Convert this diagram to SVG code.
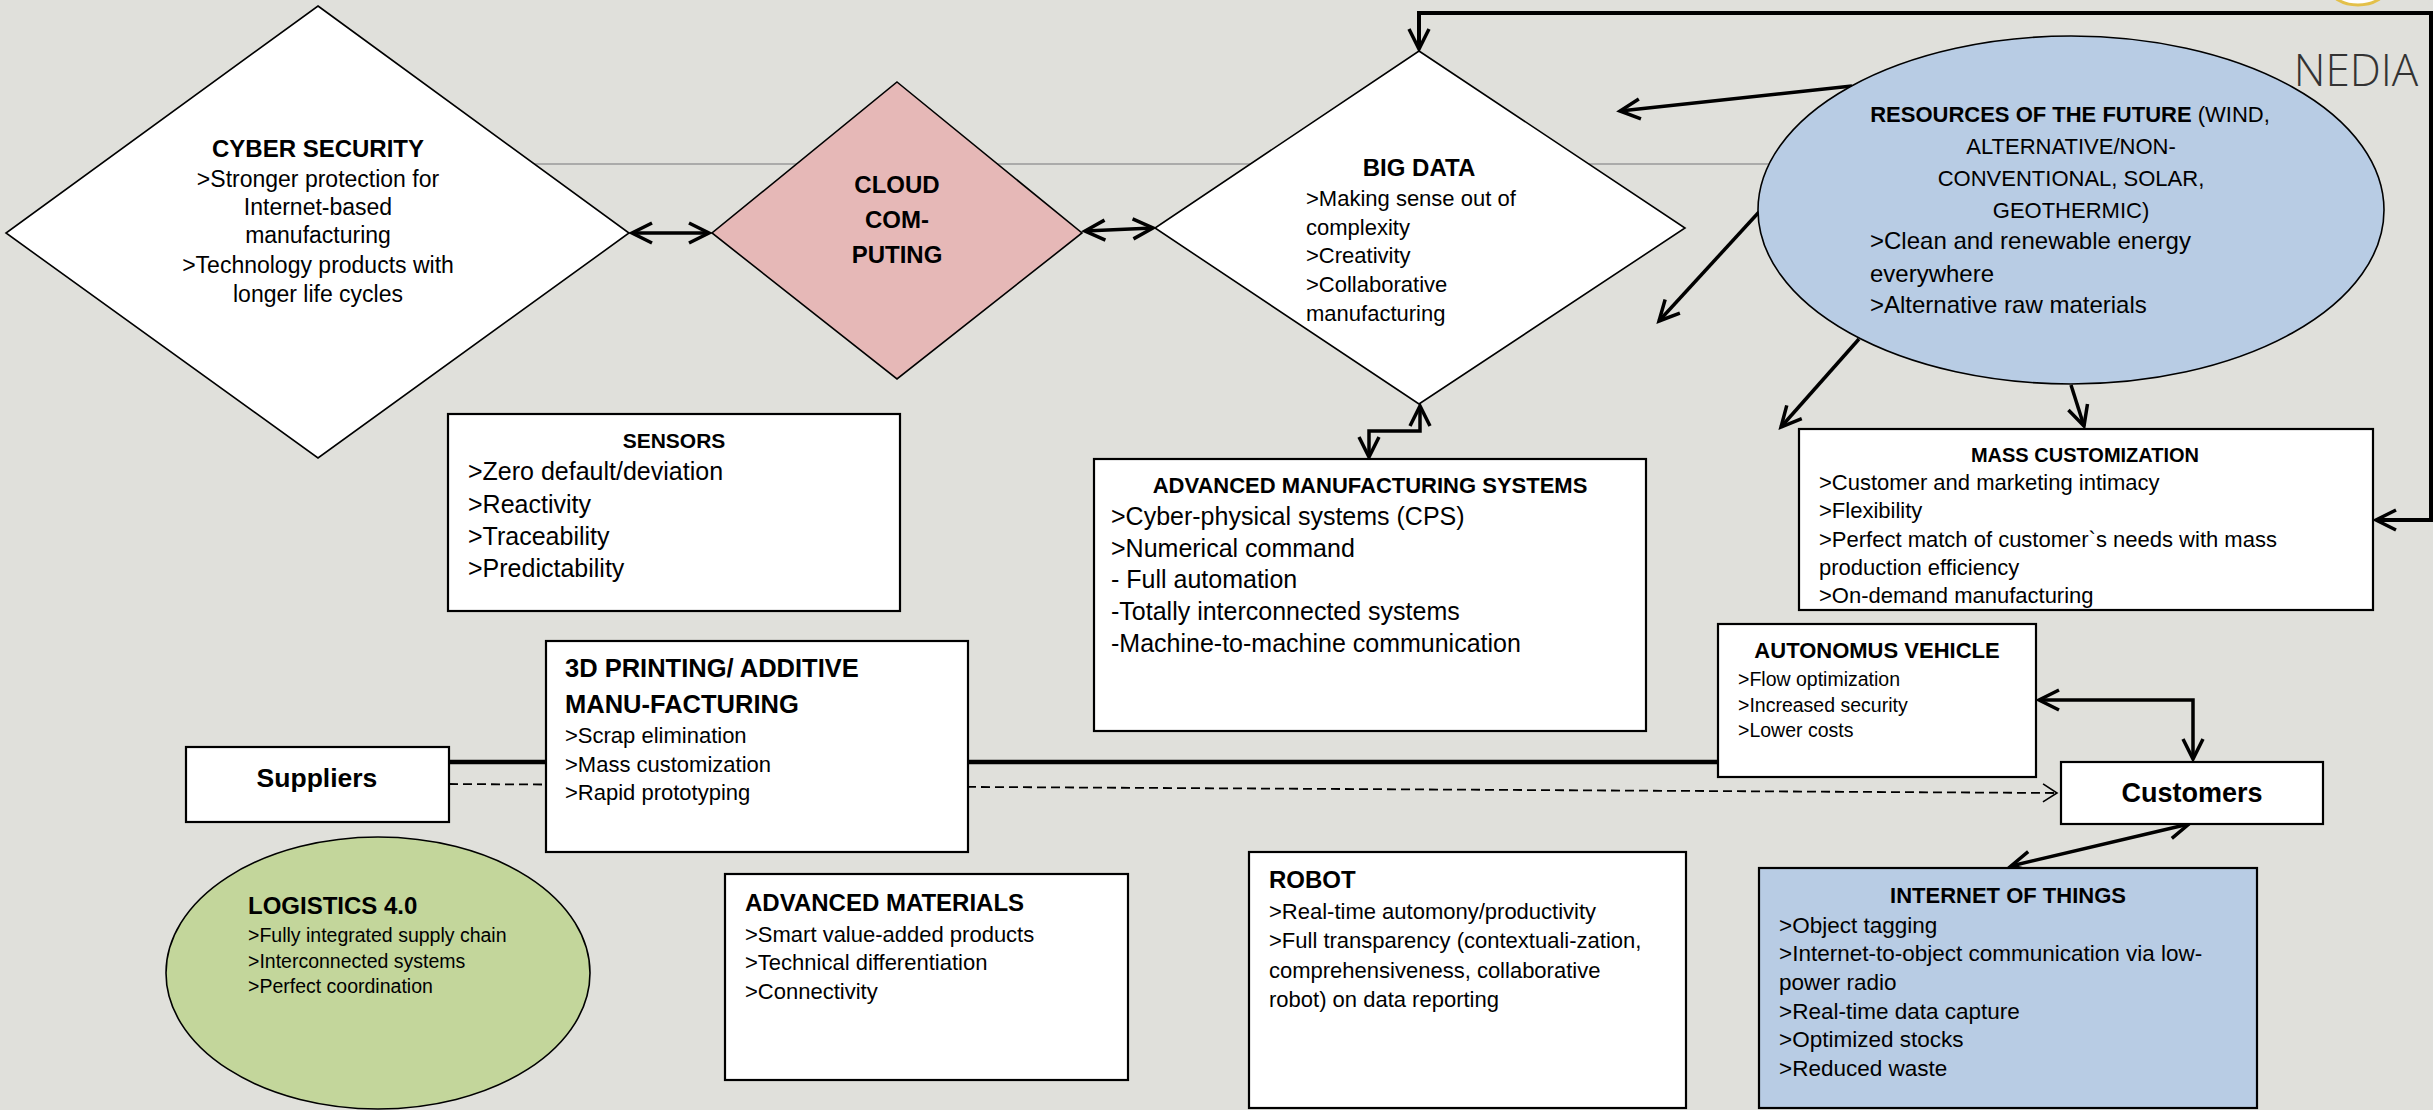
<svg xmlns="http://www.w3.org/2000/svg" width="2433" height="1110" viewBox="0 0 2433 1110">
<style>
text{font-family:"Liberation Sans",Arial,sans-serif;fill:#000}
.b{font-weight:bold}
.c{text-anchor:middle}
.box{fill:#fff;stroke:#000;stroke-width:2.2}
.dia{fill:#fff;stroke:#000;stroke-width:1.6}
.con{fill:none;stroke:#000;stroke-width:3.5;stroke-linejoin:miter}
</style>
<defs>
<marker id="ah" viewBox="-24 -14 28 28" refX="0" refY="0" markerWidth="28" markerHeight="28" markerUnits="userSpaceOnUse" orient="auto-start-reverse">
<path d="M-20,-10 L0,0 L-20,10" fill="none" stroke="#000" stroke-width="3.5"/>
</marker>
<marker id="ahs" viewBox="-18 -10 20 20" refX="0" refY="0" markerWidth="20" markerHeight="20" markerUnits="userSpaceOnUse" orient="auto">
<path d="M-14,-9 L0,0 L-14,9" fill="none" stroke="#000" stroke-width="1.6"/>
</marker>
<clipPath id="mcclip"><rect x="1799" y="429" width="574" height="180"/></clipPath>
</defs>
<rect width="2433" height="1110" fill="#E0E0DB"/>
<line x1="420" y1="164" x2="1800" y2="164" stroke="#9a9a9a" stroke-width="1.6"/>
<ellipse cx="2358" cy="-12" rx="28" ry="17" fill="#fff" stroke="#E3C04A" stroke-width="3"/>
<text x="2356" y="86" class="c" style="font-family:'Open Sans','Liberation Sans',sans-serif;font-weight:300;font-size:44px;fill:#333">NEDIA</text>

<g id="connectors">
<line class="con" x1="449" y1="762" x2="1718" y2="762" style="stroke-width:4.5"/>
<line x1="449" y1="784" x2="2057" y2="793" stroke="#000" stroke-width="1.8" stroke-dasharray="9,5" marker-end="url(#ahs)"/>
<line class="con" x1="632" y1="233" x2="709" y2="233" marker-start="url(#ah)" marker-end="url(#ah)"/>
<line class="con" x1="1085" y1="231" x2="1153" y2="228" marker-start="url(#ah)" marker-end="url(#ah)"/>
<path class="con" d="M1420,406 V431 H1369 V457" marker-start="url(#ah)" marker-end="url(#ah)"/>
<path class="con" d="M1419,49 V13 H2431 V520 H2376" style="stroke-width:4" marker-start="url(#ah)" marker-end="url(#ah)"/>
<line class="con" x1="1852" y1="86" x2="1620" y2="111" marker-end="url(#ah)"/>
<line class="con" x1="1759" y1="212" x2="1659" y2="321" marker-end="url(#ah)"/>
<line class="con" x1="1859" y1="339" x2="1781" y2="427" marker-end="url(#ah)"/>
<line class="con" x1="2071" y1="385" x2="2084" y2="426" marker-end="url(#ah)"/>
<path class="con" d="M2039,700 H2193 V759" marker-start="url(#ah)" marker-end="url(#ah)"/>
<line class="con" x1="2011" y1="866" x2="2189" y2="824" marker-start="url(#ah)" marker-end="url(#ah)"/>
</g>

<g id="cyber-security">
<polygon class="dia" points="318,6 629,233 318,458 6,233"/>
<text x="318" y="157" class="b c" style="font-size:24px">CYBER SECURITY</text>
<text class="c" style="font-size:23px"><tspan x="318" y="187">&gt;Stronger protection for</tspan><tspan x="318" y="215">Internet-based</tspan><tspan x="318" y="243">manufacturing</tspan><tspan x="318" y="273">&gt;Technology products with</tspan><tspan x="318" y="302">longer life cycles</tspan></text>
</g>

<g id="cloud-computing">
<polygon points="897,82 1082,233 897,379 712,233" fill="#E6B8B7" stroke="#000" stroke-width="1.6"/>
<text class="b c" style="font-size:24px"><tspan x="897" y="193">CLOUD</tspan><tspan x="897" y="228">COM-</tspan><tspan x="897" y="263">PUTING</tspan></text>
</g>

<g id="big-data">
<polygon class="dia" points="1419,51 1685,228 1419,404 1155,228"/>
<text x="1419" y="176" class="b c" style="font-size:24px">BIG DATA</text>
<text style="font-size:22px"><tspan x="1306" y="206">&gt;Making sense out of</tspan><tspan x="1306" y="235">complexity</tspan><tspan x="1306" y="263">&gt;Creativity</tspan><tspan x="1306" y="292">&gt;Collaborative</tspan><tspan x="1306" y="321">manufacturing</tspan></text>
</g>

<g id="resources-of-the-future">
<ellipse cx="2071" cy="210" rx="313" ry="174" fill="#B8CCE4" stroke="#000" stroke-width="1.6"/>
<text class="c" style="font-size:22px"><tspan x="2070" y="122"><tspan class="b">RESOURCES OF THE FUTURE</tspan> (WIND,</tspan><tspan x="2071" y="154">ALTERNATIVE/NON-</tspan><tspan x="2071" y="186">CONVENTIONAL, SOLAR,</tspan><tspan x="2071" y="218">GEOTHERMIC)</tspan></text>
<text style="font-size:24px"><tspan x="1870" y="249">&gt;Clean and renewable energy</tspan><tspan x="1870" y="282">everywhere</tspan><tspan x="1870" y="313">&gt;Alternative raw materials</tspan></text>
</g>

<g id="sensors">
<rect class="box" x="448" y="414" width="452" height="197"/>
<text x="674" y="448" class="b c" style="font-size:21px">SENSORS</text>
<text style="font-size:25px"><tspan x="468" y="480">&gt;Zero default/deviation</tspan><tspan x="468" y="513">&gt;Reactivity</tspan><tspan x="468" y="545">&gt;Traceability</tspan><tspan x="468" y="577">&gt;Predictability</tspan></text>
</g>

<g id="advanced-manufacturing-systems">
<rect class="box" x="1094" y="459" width="552" height="272"/>
<text x="1370" y="493" class="b c" style="font-size:22px">ADVANCED MANUFACTURING SYSTEMS</text>
<text style="font-size:25px"><tspan x="1111" y="525">&gt;Cyber-physical systems (CPS)</tspan><tspan x="1111" y="557">&gt;Numerical command</tspan><tspan x="1111" y="588">- Full automation</tspan><tspan x="1111" y="620">-Totally interconnected systems</tspan><tspan x="1111" y="652">-Machine-to-machine communication</tspan></text>
</g>

<g id="mass-customization">
<rect class="box" x="1799" y="429" width="574" height="181"/>
<text x="2085" y="462" class="b c" style="font-size:20px">MASS CUSTOMIZATION</text>
<text style="font-size:22px" clip-path="url(#mcclip)"><tspan x="1819" y="490">&gt;Customer and marketing intimacy</tspan><tspan x="1819" y="518">&gt;Flexibility</tspan><tspan x="1819" y="547">&gt;Perfect match of customer`s needs with mass</tspan><tspan x="1819" y="575">production efficiency</tspan><tspan x="1819" y="603">&gt;On-demand manufacturing</tspan></text>
</g>

<g id="autonomus-vehicle">
<rect class="box" x="1718" y="624" width="318" height="153"/>
<text x="1877" y="658" class="b c" style="font-size:22px">AUTONOMUS VEHICLE</text>
<text style="font-size:19.5px"><tspan x="1738" y="686">&gt;Flow optimization</tspan><tspan x="1738" y="712">&gt;Increased security</tspan><tspan x="1738" y="737">&gt;Lower costs</tspan></text>
</g>

<g id="suppliers">
<rect class="box" x="186" y="747" width="263" height="75"/>
<text x="317" y="787" class="b c" style="font-size:26.5px">Suppliers</text>
</g>

<g id="additive-manufacturing">
<rect class="box" x="546" y="641" width="422" height="211"/>
<text class="b" style="font-size:25.5px"><tspan x="565" y="677">3D PRINTING/ ADDITIVE</tspan><tspan x="565" y="713">MANU-FACTURING</tspan></text>
<text style="font-size:22px"><tspan x="565" y="743">&gt;Scrap elimination</tspan><tspan x="565" y="772">&gt;Mass customization</tspan><tspan x="565" y="800">&gt;Rapid prototyping</tspan></text>
</g>

<g id="customers">
<rect class="box" x="2061" y="762" width="262" height="62"/>
<text x="2192" y="802" class="b c" style="font-size:27px">Customers</text>
</g>

<g id="logistics">
<ellipse cx="378" cy="973" rx="212" ry="136" fill="#C3D69B" stroke="#000" stroke-width="1.6"/>
<text x="248" y="914" class="b" style="font-size:24px">LOGISTICS 4.0</text>
<text style="font-size:19.5px"><tspan x="248" y="942">&gt;Fully integrated supply chain</tspan><tspan x="248" y="968">&gt;Interconnected systems</tspan><tspan x="248" y="993">&gt;Perfect coordination</tspan></text>
</g>

<g id="advanced-materials">
<rect class="box" x="725" y="874" width="403" height="206"/>
<text x="745" y="911" class="b" style="font-size:24px">ADVANCED MATERIALS</text>
<text style="font-size:22px"><tspan x="745" y="942">&gt;Smart value-added products</tspan><tspan x="745" y="970">&gt;Technical differentiation</tspan><tspan x="745" y="999">&gt;Connectivity</tspan></text>
</g>

<g id="robot">
<rect class="box" x="1249" y="852" width="437" height="256"/>
<text x="1269" y="888" class="b" style="font-size:24px">ROBOT</text>
<text style="font-size:22px"><tspan x="1269" y="919">&gt;Real-time automony/productivity</tspan><tspan x="1269" y="948">&gt;Full transparency (contextuali-zation,</tspan><tspan x="1269" y="978">comprehensiveness, collaborative</tspan><tspan x="1269" y="1007">robot) on data reporting</tspan></text>
</g>

<g id="internet-of-things">
<rect x="1759" y="868" width="498" height="240" fill="#B8CCE4" stroke="#000" stroke-width="2.2"/>
<text x="2008" y="903" class="b c" style="font-size:22px">INTERNET OF THINGS</text>
<text style="font-size:22.5px"><tspan x="1779" y="933">&gt;Object tagging</tspan><tspan x="1779" y="961">&gt;Internet-to-object communication via low-</tspan><tspan x="1779" y="990">power radio</tspan><tspan x="1779" y="1019">&gt;Real-time data capture</tspan><tspan x="1779" y="1047">&gt;Optimized stocks</tspan><tspan x="1779" y="1076">&gt;Reduced waste</tspan></text>
</g>
</svg>
